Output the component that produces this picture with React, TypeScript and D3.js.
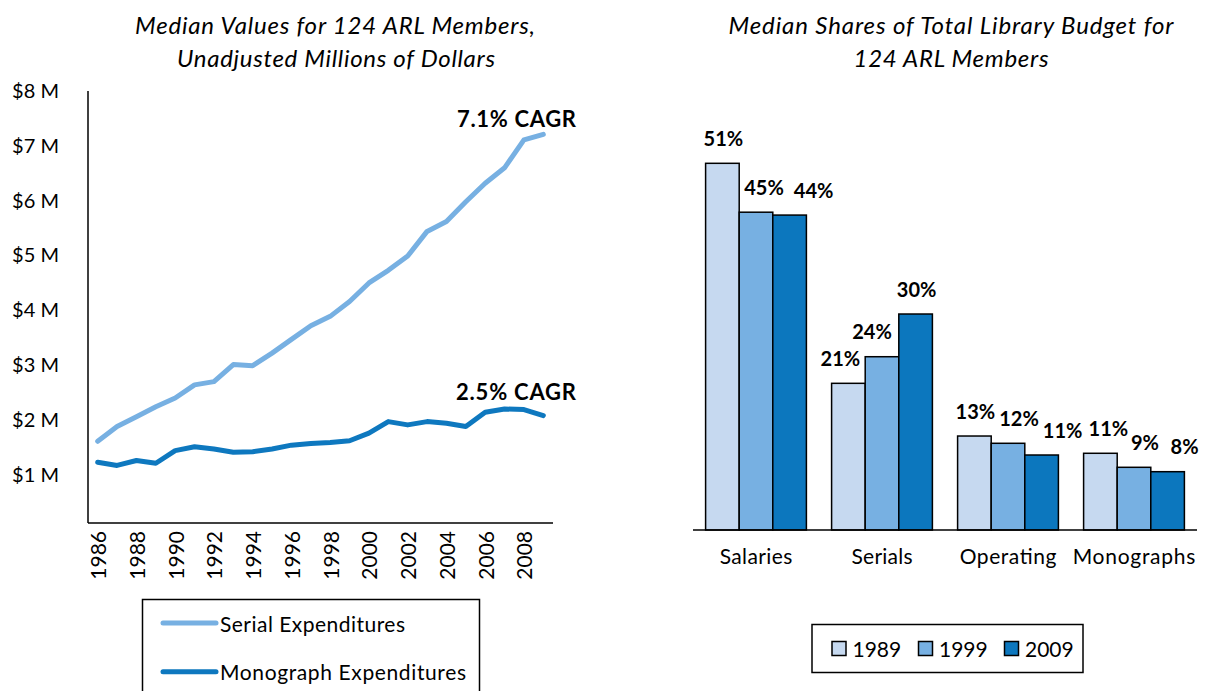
import React from 'react';
import * as d3 from 'd3';

// ---- Left chart data ----
const years = [1986, 1987, 1988, 1989, 1990, 1991, 1992, 1993, 1994, 1995, 1996, 1997, 1998, 1999, 2000, 2001, 2002, 2003, 2004, 2005, 2006, 2007, 2008, 2009];
const yearTickLabels = [1986, 1988, 1990, 1992, 1994, 1996, 1998, 2000, 2002, 2004, 2006, 2008];
const serialValues = [1.59, 1.86, 2.04, 2.22, 2.38, 2.62, 2.68, 2.99, 2.97, 3.2, 3.45, 3.7, 3.87, 4.14, 4.48, 4.71, 4.97, 5.42, 5.6, 5.96, 6.3, 6.58, 7.09, 7.19];
const monographValues = [1.21, 1.15, 1.24, 1.19, 1.42, 1.49, 1.45, 1.39, 1.4, 1.45, 1.52, 1.55, 1.57, 1.6, 1.74, 1.95, 1.89, 1.95, 1.92, 1.86, 2.12, 2.18, 2.17, 2.06];
const dollarTicks = [1, 2, 3, 4, 5, 6, 7, 8];
const lineSeriesNames = ['Serial Expenditures', 'Monograph Expenditures'];
const cagrLabels = ['7.1% CAGR', '2.5% CAGR'];

// ---- Right chart data ----
const categories = ['Salaries', 'Serials', 'Operating', 'Monographs'];
const barYears = ['1989', '1999', '2009'];
const share1989 = [51, 20.4, 13.07, 10.67];
const share1999 = [44.2, 24.1, 12.06, 8.72];
const share2009 = [43.8, 30.04, 10.43, 8.11];
const label1989 = ['51%', '21%', '13%', '11%'];
const label1999 = ['45%', '24%', '12%', '9%'];
const label2009 = ['44%', '30%', '11%', '8%'];

// layout-only constants
const nudge1989 = [1, -8, 1, 8];
const nudge1999 = [8, -10, 11, 11];
const nudge2009 = [24, 1, 21, 17];
const categoryTextWidths = [72.7, 61, 96.7, 122.7];
const legendTextWidths = [185, 246];

const FONT = 'Lato, "Open Sans", sans-serif';
const SERIAL_COLOR = '#77B0E2';
const MONO_COLOR = '#0E78BF';
const BAR_COLORS = ['#C6D9F0', '#77B0E2', '#0C77BE'];

export default function App() {
  // Left chart scales
  const x = d3.scaleBand<number>().domain(years).range([88, 553]);
  const y = d3.scaleLinear().domain([0.1, 8]).range([523, 90]);
  const cx = (yr: number) => (x(yr) as number) + x.bandwidth() / 2;
  const line = d3
    .line<number>()
    .x((_, i) => cx(years[i]))
    .y((v) => y(v));

  // Right chart scales
  const x0 = d3.scaleBand<string>().domain(categories).range([693, 1197]).paddingInner(0.2).paddingOuter(0.1);
  const x1 = d3.scaleBand<string>().domain(barYears).range([0, x0.bandwidth()]);
  const yb = d3.scaleLinear().domain([0, 60]).range([530, 530 - 60 * 7.19]);
  const seriesVals = [share1989, share1999, share2009];
  const seriesLabels = [label1989, label1999, label2009];
  const seriesNudges = [nudge1989, nudge1999, nudge2009];

  return (
    <svg width={1207} height={691} style={{ position: 'absolute', left: 0, top: 0, background: '#fff' }} fontFamily={FONT}>
      {/* Left title */}
      <text x={335} y={24} textAnchor="middle" dominantBaseline="central" fontSize={24} fontStyle="italic" fill="#000" textLength={400}>
        Median Values for 124 ARL Members,
      </text>
      <text x={336} y={57} textAnchor="middle" dominantBaseline="central" fontSize={24} fontStyle="italic" fill="#000" textLength={318}>
        Unadjusted Millions of Dollars
      </text>

      {/* Left y labels */}
      {dollarTicks.map((t) => (
        <text key={t} x={59} y={y(t)} textAnchor="end" dominantBaseline="central" fontSize={20} fill="#000">
          {`$${t} M`}
        </text>
      ))}
      {/* axes */}
      <line x1={88} x2={88} y1={91} y2={523} stroke="#000" strokeWidth={1.5} />
      <line x1={88} x2={553} y1={523} y2={523} stroke="#000" strokeWidth={1.5} />
      {yearTickLabels.map((yr) => (
        <text
          key={yr}
          transform={`translate(${cx(yr)},531) rotate(-90)`}
          textAnchor="end"
          dominantBaseline="central"
          fontSize={21}
          fill="#000"
        >
          {yr}
        </text>
      ))}

      {/* lines */}
      <path d={line(serialValues) as string} fill="none" stroke={SERIAL_COLOR} strokeWidth={5} strokeLinejoin="round" strokeLinecap="round" />
      <path d={line(monographValues) as string} fill="none" stroke={MONO_COLOR} strokeWidth={5} strokeLinejoin="round" strokeLinecap="round" />

      <text x={457} y={118} dominantBaseline="central" fontSize={22} fontWeight="bold" fill="#000" textLength={119}>
        {cagrLabels[0]}
      </text>
      <text x={456} y={391} dominantBaseline="central" fontSize={22} fontWeight="bold" fill="#000" textLength={120}>
        {cagrLabels[1]}
      </text>

      {/* left legend */}
      <rect x={142.5} y={599.5} width={337} height={120} fill="#fff" stroke="#000" strokeWidth={1.5} />
      {lineSeriesNames.map((n, i) => (
        <g key={n}>
          <line x1={163} x2={216} y1={623 + i * 48.7} y2={623 + i * 48.7} stroke={i === 0 ? SERIAL_COLOR : MONO_COLOR} strokeWidth={5} strokeLinecap="round" />
          <text x={220} y={623 + i * 48.7} dominantBaseline="central" fontSize={21} fill="#000" textLength={legendTextWidths[i]}>
            {n}
          </text>
        </g>
      ))}

      {/* Right title */}
      <text x={951} y={24} textAnchor="middle" dominantBaseline="central" fontSize={24} fontStyle="italic" fill="#000" textLength={445}>
        Median Shares of Total Library Budget for
      </text>
      <text x={951} y={57} textAnchor="middle" dominantBaseline="central" fontSize={24} fontStyle="italic" fill="#000" textLength={195}>
        124 ARL Members
      </text>

      {/* bars */}
      {categories.map((c, ci) => (
        <g key={c} transform={`translate(${x0(c)},0)`}>
          {barYears.map((yr, si) => (
            <rect
              key={yr}
              x={x1(yr) as number}
              y={yb(seriesVals[si][ci])}
              width={x1.bandwidth()}
              height={530 - yb(seriesVals[si][ci])}
              fill={BAR_COLORS[si]}
              stroke="#000"
              strokeWidth={1.5}
            />
          ))}
          {barYears.map((yr, si) => (
            <text
              key={'l' + yr}
              x={(x1(yr) as number) + x1.bandwidth() / 2 + seriesNudges[si][ci]}
              y={yb(seriesVals[si][ci]) - 25.5}
              textAnchor="middle"
              dominantBaseline="central"
              fontSize={20}
              fontWeight="bold"
              fill="#000"
            >
              {seriesLabels[si][ci]}
            </text>
          ))}
          <text
            x={x0.bandwidth() / 2}
            y={555}
            textAnchor="middle"
            dominantBaseline="central"
            fontSize={21}
            fill="#000"
            textLength={categoryTextWidths[ci]}
          >
            {c}
          </text>
        </g>
      ))}
      <line x1={693} x2={1197} y1={530} y2={530} stroke="#000" strokeWidth={1.5} />

      {/* right legend */}
      <rect x={812} y={624.5} width={271} height={48} fill="#fff" stroke="#000" strokeWidth={1.5} />
      {barYears.map((yr, i) => {
        const lx = [832, 918.5, 1004.5][i];
        return (
          <g key={yr}>
            <rect x={lx} y={641.5} width={14} height={14} fill={BAR_COLORS[i]} stroke="#000" strokeWidth={1.5} />
            <text x={lx + 20.5} y={648.5} dominantBaseline="central" fontSize={21} fill="#000">
              {yr}
            </text>
          </g>
        );
      })}
    </svg>
  );
}
